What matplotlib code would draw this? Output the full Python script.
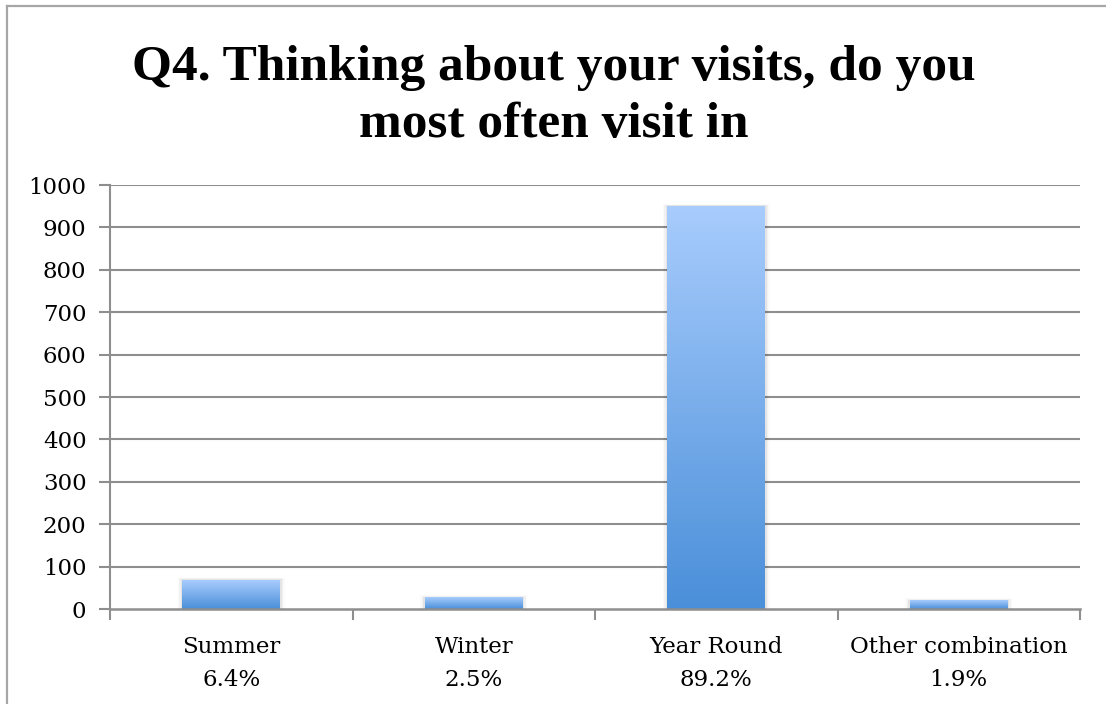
import numpy as np
import matplotlib
matplotlib.use("Agg")
import matplotlib.pyplot as plt
from matplotlib.colors import LinearSegmentedColormap
from matplotlib.patches import Rectangle
from matplotlib.lines import Line2D

# Survey responses
categories = ["Summer", "Winter", "Year Round", "Other combination"]
counts = [68, 27, 950, 20]
percents = ["6.4%", "2.5%", "89.2%", "1.9%"]
y_ticks = [0, 100, 200, 300, 400, 500, 600, 700, 800, 900, 1000]
title_lines = ["Q4. Thinking about your visits, do you", "most often visit in"]

W, H, DPI = 1106, 704, 100
fig = plt.figure(figsize=(W / DPI, H / DPI), dpi=DPI)
fig.patch.set_facecolor("white")

# Chart frame (left and top edges)
fig.add_artist(Line2D([7 / W, 7 / W], [0, 1 - 6 / H], transform=fig.transFigure,
                      color="#a6a6a6", lw=1.6))
fig.add_artist(Line2D([7 / W, 1], [1 - 6 / H, 1 - 6 / H], transform=fig.transFigure,
                      color="#a6a6a6", lw=1.6))

ax = fig.add_axes([110 / W, 1 - 609 / H, (1080 - 110) / W, (609 - 185) / H])
ax.set_xlim(0, len(categories))
ax.set_ylim(0, 1000)

grid_c = "#8e8e8e"
for v in y_ticks[1:]:
    ax.axhline(v, color=grid_c, lw=1.5, zorder=1)

for s in ["top", "right"]:
    ax.spines[s].set_visible(False)
ax.spines["left"].set_color(grid_c)
ax.spines["left"].set_linewidth(1.5)
ax.spines["bottom"].set_color(grid_c)
ax.spines["bottom"].set_linewidth(1.8)
ax.spines["bottom"].set_zorder(5)

ax.set_yticks(y_ticks)
ax.set_yticklabels([str(v) for v in y_ticks])
ax.tick_params(axis="y", length=8, width=1.5, color=grid_c, pad=9,
               labelsize=16.5, labelcolor="black")

# Category boundary ticks on the x axis, labels at centres
ax.set_xticks(np.arange(len(categories) + 1))
ax.set_xticklabels([])
ax.tick_params(axis="x", which="major", length=8, width=1.5, color=grid_c)
ax.set_xticks(np.arange(len(categories)) + 0.5, minor=True)
ax.set_xticklabels([f"{c}\n{p}" for c, p in zip(categories, percents)], minor=True)
ax.tick_params(axis="x", which="minor", length=0, pad=19.5, labelsize=16.5)
for lab in ax.get_xticklabels(minor=True) + ax.get_yticklabels():
    lab.set_fontfamily("DejaVu Serif")
for lab in ax.get_xticklabels(minor=True):
    lab.set_linespacing(1.65)

# Gradient-filled bars
cmap = LinearSegmentedColormap.from_list("bar", ["#4a8fd9", "#a8ccfd"])
grad = np.linspace(0, 1, 256).reshape(-1, 1)
bar_w = 0.404
for i, v in enumerate(counts):
    x0 = i + 0.5 - bar_w / 2
    # soft shadow
    for k, a in enumerate([0.05, 0.035, 0.02]):
        pad = 0.006 * (k + 1)
        ax.add_patch(Rectangle((x0 - pad, 0), bar_w + 2 * pad, v + 2 + k * 2,
                               facecolor="black", alpha=a, lw=0, zorder=2))
    ax.imshow(grad, cmap=cmap, origin="lower", aspect="auto",
              extent=(x0, x0 + bar_w, 0, v), zorder=3, interpolation="bilinear")
ax.set_xlim(0, len(categories))
ax.set_ylim(0, 1000)

for line, base in zip(title_lines, [80, 137]):
    fig.text(554 / W, 1 - base / H, line, ha="center", va="baseline",
             fontsize=37, fontweight="bold", family="Liberation Serif")

fig.savefig("out.png", dpi=DPI)
